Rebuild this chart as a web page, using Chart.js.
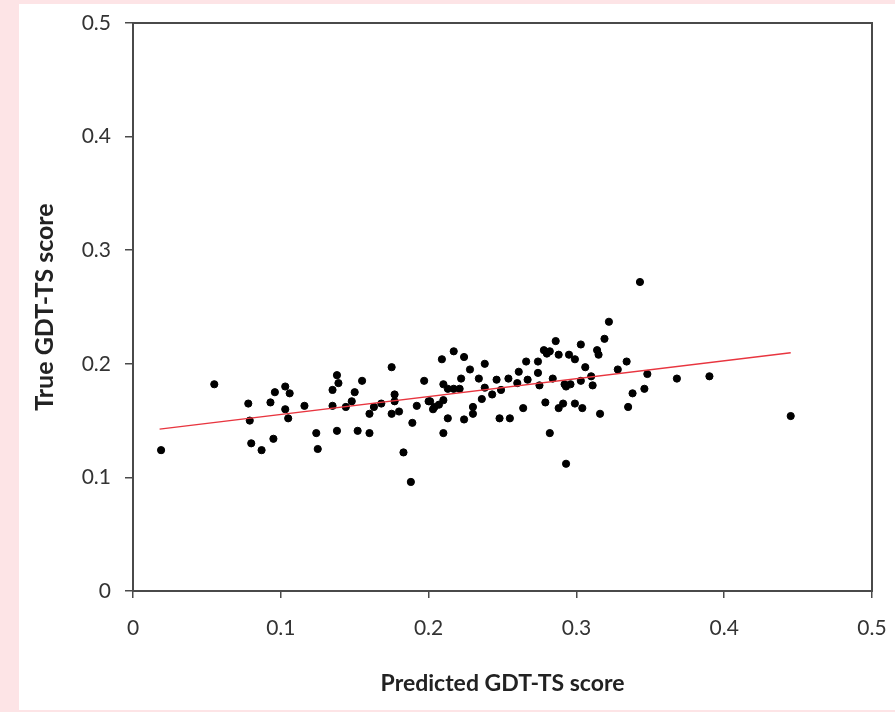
<!DOCTYPE html>
<html>
<head>
<meta charset="utf-8">
<script src="https://cdn.jsdelivr.net/npm/chart.js@4"></script>
<style>
  body { margin: 0; background: #fde4e6; width: 895px; height: 712px; overflow: hidden; }
  #card { position: absolute; left: 19px; top: 4px; width: 876px; height: 706px; background: #fff; }
</style>
</head>
<body>
<div id="card"><canvas id="myChart" width="876" height="706"></canvas></div>
<script>
// predicted vs true GDT-TS
const predicted = [
  0.019, 0.055, 0.078, 0.079, 0.080, 0.087, 0.095, 0.093, 0.096, 0.103,
  0.103, 0.105, 0.106, 0.116, 0.124, 0.125, 0.138, 0.139, 0.135, 0.135,
  0.138, 0.144, 0.148, 0.150, 0.155, 0.152, 0.160, 0.160, 0.163, 0.168,
  0.175, 0.177, 0.177, 0.175, 0.180, 0.183, 0.188, 0.189, 0.192, 0.197,
  0.200, 0.209, 0.217, 0.224, 0.210, 0.213, 0.217, 0.221, 0.228, 0.222,
  0.234, 0.238, 0.201, 0.204, 0.207, 0.210, 0.203, 0.213, 0.210, 0.224,
  0.230, 0.230, 0.236, 0.238, 0.243, 0.246, 0.249, 0.248, 0.255, 0.254,
  0.261, 0.260, 0.266, 0.267, 0.264, 0.274, 0.274, 0.275, 0.278, 0.280,
  0.279, 0.282, 0.322, 0.319, 0.286, 0.303, 0.282, 0.288, 0.295, 0.299,
  0.314, 0.315, 0.306, 0.334, 0.328, 0.348, 0.310, 0.284, 0.292, 0.296,
  0.293, 0.303, 0.311, 0.338, 0.346, 0.288, 0.291, 0.299, 0.304, 0.316,
  0.335, 0.293, 0.343, 0.368, 0.390, 0.445
];
const trueScore = [
  0.124, 0.182, 0.165, 0.150, 0.130, 0.124, 0.134, 0.166, 0.175, 0.180,
  0.160, 0.152, 0.174, 0.163, 0.139, 0.125, 0.190, 0.183, 0.177, 0.163,
  0.141, 0.162, 0.167, 0.175, 0.185, 0.141, 0.139, 0.156, 0.162, 0.165,
  0.197, 0.173, 0.167, 0.156, 0.158, 0.122, 0.096, 0.148, 0.163, 0.185,
  0.167, 0.204, 0.211, 0.206, 0.182, 0.178, 0.178, 0.178, 0.195, 0.187,
  0.187, 0.200, 0.167, 0.162, 0.164, 0.168, 0.160, 0.152, 0.139, 0.151,
  0.162, 0.156, 0.169, 0.179, 0.173, 0.186, 0.177, 0.152, 0.152, 0.187,
  0.193, 0.183, 0.202, 0.186, 0.161, 0.202, 0.192, 0.181, 0.212, 0.209,
  0.166, 0.139, 0.237, 0.222, 0.220, 0.217, 0.211, 0.208, 0.208, 0.204,
  0.212, 0.208, 0.197, 0.202, 0.195, 0.191, 0.189, 0.187, 0.182, 0.182,
  0.180, 0.185, 0.181, 0.174, 0.178, 0.161, 0.165, 0.165, 0.161, 0.156,
  0.162, 0.112, 0.272, 0.187, 0.189, 0.154
];
// linear trend line end points
const trendX = [0.018, 0.445];
const trendY = [0.1425, 0.2098];
const tickLabels = ["0", "0.1", "0.2", "0.3", "0.4", "0.5"];

const font = "Lato, 'Liberation Sans', sans-serif";

// box around the plot area (top and right edges)
const frame = {
  id: "frame",
  afterDraw(chart) {
    const { ctx, chartArea: a } = chart;
    ctx.save();
    ctx.strokeStyle = "#4a4a4a";
    ctx.lineWidth = 2;
    ctx.strokeRect(a.left, a.top, a.right - a.left, a.bottom - a.top);
    ctx.restore();
  },
};

var ctx = document.getElementById("myChart").getContext("2d");
var myChart = new Chart(ctx, {
  type: "scatter",
  data: {
    datasets: [
      {
        label: "Trend",
        type: "line",
        data: trendX.map((x, i) => ({ x: x, y: trendY[i] })),
        borderColor: "#e8353f",
        borderWidth: 1.5,
        pointRadius: 0,
        fill: false,
      },
      {
        label: "Targets",
        data: predicted.map((x, i) => ({ x: x, y: trueScore[i] })),
        backgroundColor: "#000",
        borderColor: "#000",
        pointRadius: 3.6,
      },
    ],
  },
  options: {
    responsive: false,
    animation: false,
    layout: { padding: { top: 19, right: 23, left: 0, bottom: 0 } },
    plugins: { legend: { display: false }, tooltip: { enabled: false } },
    scales: {
      x: {
        type: "linear",
        min: 0,
        max: 0.5,
        afterFit(scale) {
          scale.height = 119;
          scale.paddingLeft = 0;
          scale.paddingRight = 0;
        },
        border: { color: "#4a4a4a", width: 2 },
        grid: { drawOnChartArea: false, tickLength: 7, color: "#4a4a4a", lineWidth: 1.5 },
        ticks: {
          stepSize: 0.1,
          padding: 18,
          color: "#333",
          font: { family: font, size: 21 },
          callback: (v) => tickLabels[Math.round(v * 10)],
        },
        title: {
          display: true,
          text: "Predicted GDT-TS score",
          color: "#222",
          font: { family: font, size: 23, weight: "bold" },
          padding: { top: 0, bottom: 13 },
        },
      },
      y: {
        type: "linear",
        min: 0,
        max: 0.5,
        afterFit(scale) {
          scale.width = 114;
          scale.paddingTop = 0;
          scale.paddingBottom = 0;
        },
        border: { color: "#4a4a4a", width: 2 },
        grid: { drawOnChartArea: false, tickLength: 8, color: "#4a4a4a", lineWidth: 1.5 },
        ticks: {
          stepSize: 0.1,
          padding: 14,
          color: "#333",
          font: { family: font, size: 21 },
          callback: (v) => tickLabels[Math.round(v * 10)],
        },
        title: {
          display: true,
          text: "True GDT-TS score",
          color: "#222",
          font: { family: font, size: 25, weight: "bold" },
          padding: { top: 11, bottom: 0 },
        },
      },
    },
  },
  plugins: [frame],
});
</script>
</body>
</html>
